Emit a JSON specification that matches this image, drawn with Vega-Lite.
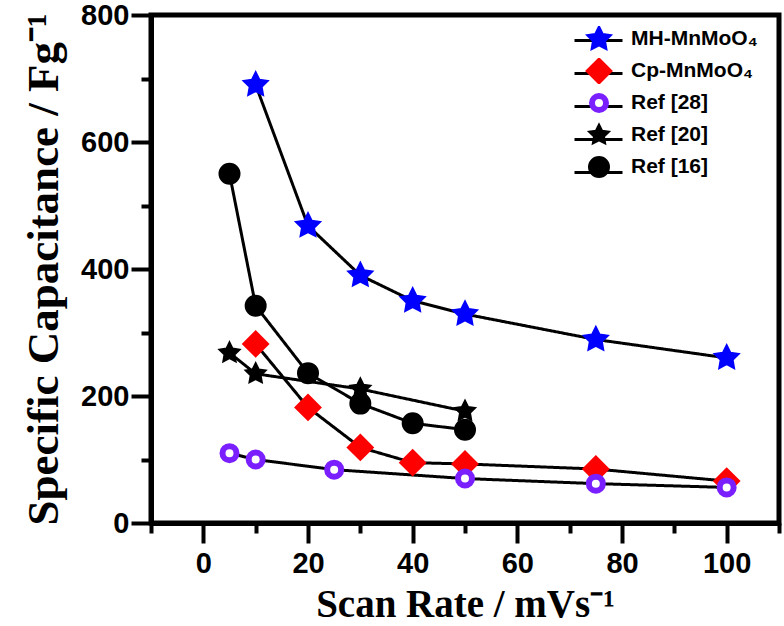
{
  "$schema": "https://vega.github.io/schema/vega-lite/v6.json",
  "width": 628,
  "height": 508,
  "autosize": "none",
  "padding": {"left": 151, "top": 15, "right": 5, "bottom": 103},
  "background": "white",
  "view": {"stroke": "black", "strokeWidth": 5},
  "config": {
    "axis": {
      "grid": false,
      "domainColor": "black",
      "domainWidth": 5,
      "tickColor": "black",
      "tickWidth": 4,
      "labelFont": "Liberation Sans",
      "labelFontWeight": "bold",
      "labelFontSize": 29,
      "labelColor": "black",
      "titleFont": "Liberation Serif",
      "titleFontWeight": "bold",
      "titleFontSize": 39,
      "titleColor": "black"
    },
    "legend": {
      "labelFont": "Liberation Sans",
      "labelFontWeight": "bold",
      "labelFontSize": 21,
      "labelColor": "black",
      "padding": 0
    }
  },
  "data": {
    "values": [
      {"series": "MH-MnMoO₄", "rate": 10, "cap": 690},
      {"series": "MH-MnMoO₄", "rate": 20, "cap": 468},
      {"series": "MH-MnMoO₄", "rate": 30, "cap": 390},
      {"series": "MH-MnMoO₄", "rate": 40, "cap": 350},
      {"series": "MH-MnMoO₄", "rate": 50, "cap": 329},
      {"series": "MH-MnMoO₄", "rate": 75, "cap": 289},
      {"series": "MH-MnMoO₄", "rate": 100, "cap": 260},
      {"series": "Cp-MnMoO₄", "rate": 10, "cap": 282},
      {"series": "Cp-MnMoO₄", "rate": 20, "cap": 182},
      {"series": "Cp-MnMoO₄", "rate": 30, "cap": 119},
      {"series": "Cp-MnMoO₄", "rate": 40, "cap": 95},
      {"series": "Cp-MnMoO₄", "rate": 50, "cap": 93},
      {"series": "Cp-MnMoO₄", "rate": 75, "cap": 85},
      {"series": "Cp-MnMoO₄", "rate": 100, "cap": 66},
      {"series": "Ref [28]", "rate": 5, "cap": 110},
      {"series": "Ref [28]", "rate": 10, "cap": 100},
      {"series": "Ref [28]", "rate": 25, "cap": 84},
      {"series": "Ref [28]", "rate": 50, "cap": 70},
      {"series": "Ref [28]", "rate": 75, "cap": 62},
      {"series": "Ref [28]", "rate": 100, "cap": 56},
      {"series": "Ref [20]", "rate": 5, "cap": 268},
      {"series": "Ref [20]", "rate": 10, "cap": 235},
      {"series": "Ref [20]", "rate": 30, "cap": 211},
      {"series": "Ref [20]", "rate": 50, "cap": 176},
      {"series": "Ref [16]", "rate": 5, "cap": 550},
      {"series": "Ref [16]", "rate": 10, "cap": 342},
      {"series": "Ref [16]", "rate": 20, "cap": 236},
      {"series": "Ref [16]", "rate": 30, "cap": 188},
      {"series": "Ref [16]", "rate": 40, "cap": 157},
      {"series": "Ref [16]", "rate": 50, "cap": 147}
    ]
  },
  "resolve": {"axis": {"x": "independent", "y": "independent"}},
  "layer": [
    {
      "mark": {"type": "line", "strokeWidth": 3, "color": "black"},
      "encoding": {
        "x": {
          "field": "rate", "type": "quantitative",
          "scale": {"domain": [-10, 110], "nice": false, "zero": false},
          "axis": {"orient": "bottom", "values": [-10, 10, 30, 50, 70, 90, 110], "tickSize": 10, "labels": false, "title": null}
        },
        "y": {
          "field": "cap", "type": "quantitative",
          "scale": {"domain": [0, 800], "nice": false},
          "axis": {"orient": "left", "values": [100, 300, 500, 700], "tickSize": 10, "labels": false, "title": null}
        },
        "strokeDash": {
          "field": "series", "type": "nominal",
          "sort": "descending",
          "scale": {"range": [[1, 0], [1, 0], [1, 0], [1, 0], [1, 0]]},
          "legend": {
            "orient": "none", "legendX": 434, "legendY": 0, "title": null,
            "rowPadding": 0, "labelOffset": 18,
            "labelExpr": "''", "labelFontSize": 14,
            "symbolType": "stroke", "symbolSize": 2304, "symbolOffset": -12,
            "symbolStrokeWidth": 3, "symbolStrokeColor": "black",
            "symbolOpacity": 1
          }
        },
        "detail": {"field": "series"}
      }
    },
    {
      "mark": {"type": "point", "opacity": 1, "fillOpacity": 1},
      "encoding": {
        "x": {
          "field": "rate", "type": "quantitative",
          "axis": {"orient": "bottom", "values": [0, 20, 40, 60, 80, 100], "tickSize": 20, "labelPadding": 6, "title": "Scan Rate / mVs⁻¹", "titlePadding": 7}
        },
        "y": {
          "field": "cap", "type": "quantitative",
          "axis": {"orient": "left", "values": [0, 200, 400, 600, 800], "tickSize": 20, "labelPadding": 2, "title": "Specific Capacitance / Fg⁻¹", "titlePadding": 14, "titleFontSize": 45}
        },
        "shape": {
          "field": "series", "type": "nominal",
          "scale": {
            "domain": ["MH-MnMoO₄", "Cp-MnMoO₄", "Ref [28]", "Ref [20]", "Ref [16]"],
            "range": [
              "M0,-1L0.294,-0.405L0.951,-0.309L0.476,0.155L0.588,0.809L0,0.5L-0.588,0.809L-0.476,0.155L-0.951,-0.309L-0.294,-0.405Z",
              "diamond",
              "circle",
              "M0,-1L0.294,-0.405L0.951,-0.309L0.476,0.155L0.588,0.809L0,0.5L-0.588,0.809L-0.476,0.155L-0.951,-0.309L-0.294,-0.405Z",
              "circle"
            ]
          },
          "legend": {
            "orient": "none", "legendX": 434, "legendY": 11, "title": null,
            "clipHeight": 26, "rowPadding": 6, "labelOffset": 18, "zindex": 1
          }
        },
        "fill": {
          "field": "series", "type": "nominal",
          "scale": {
            "domain": ["MH-MnMoO₄", "Cp-MnMoO₄", "Ref [28]", "Ref [20]", "Ref [16]"],
            "range": ["#0000FF", "#FF0000", "#FFFFFF", "#000000", "#000000"]
          }
        },
        "stroke": {
          "field": "series", "type": "nominal",
          "scale": {
            "domain": ["MH-MnMoO₄", "Cp-MnMoO₄", "Ref [28]", "Ref [20]", "Ref [16]"],
            "range": ["#0000FF", "#FF0000", "#7A1FFF", "#000000", "#000000"]
          }
        },
        "size": {
          "field": "series", "type": "nominal",
          "scale": {
            "type": "ordinal",
            "domain": ["MH-MnMoO₄", "Cp-MnMoO₄", "Ref [28]", "Ref [20]", "Ref [16]"],
            "range": [635, 625, 196, 441, 400]
          }
        },
        "strokeWidth": {
          "field": "series", "type": "nominal",
          "scale": {
            "type": "ordinal",
            "domain": ["MH-MnMoO₄", "Cp-MnMoO₄", "Ref [28]", "Ref [20]", "Ref [16]"],
            "range": [2, 2, 6, 2, 2]
          }
        }
      }
    }
  ]
}
